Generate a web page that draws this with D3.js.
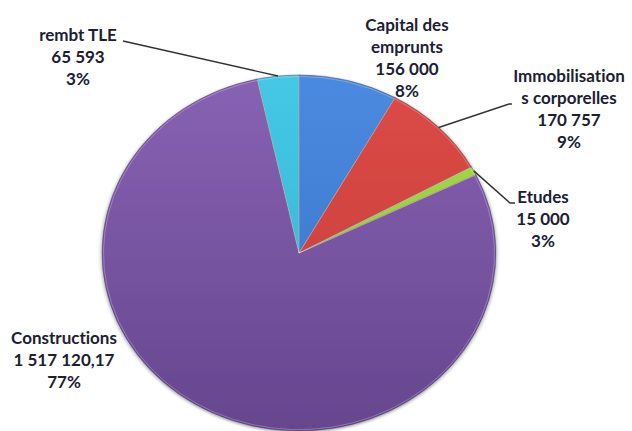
<!DOCTYPE html>
<html>
<head>
<meta charset="utf-8">
<script src="https://cdn.jsdelivr.net/npm/d3@7"></script>
<style>
  html, body { margin: 0; padding: 0; background: #fff; }
  text { font-family: "Lato", "Open Sans", sans-serif; font-weight: bold; fill: #1b2133;
         font-variant-ligatures: none; font-feature-settings: "liga" 0, "dlig" 0; }
</style>
</head>
<body>
<svg id="chart" width="632" height="431"></svg>
<script>
// slices clockwise from 12 o'clock
var labels = ["Capital des emprunts", "Immobilisations corporelles", "Etudes", "Constructions", "rembt TLE"];
var values = [156000, 170757, 15000, 1517120.17, 65593];
var valueText = ["156 000", "170 757", "15 000", "1 517 120,17", "65 593"];
var pctText = ["8%", "9%", "3%", "77%", "3%"];
// label lines as they are wrapped in the picture
var labelLines = [
  ["Capital des", "emprunts"],
  ["Immobilisation", "s corporelles"],
  ["Etudes"],
  ["Constructions"],
  ["rembt TLE"]
];
var colorsTop = ["#4a8ae0", "#dc4a46", "#a8dc48", "#8862b4", "#44c8e6"];
var colorsBot = ["#3672c4", "#c43c3a", "#8cc032", "#66468e", "#34b0cc"];

var cx = 299, cy = 253, rx = 197, ry = 178;
// label anchor: centre x, first baseline y
var labelPos = [[407, 31], [569, 82], [543, 203], [64, 344], [78, 41]];

var svg = d3.select("#chart");
var defs = svg.append("defs");

colorsTop.forEach(function(c, i) {
  var g = defs.append("linearGradient")
    .attr("id", "grad" + i)
    .attr("gradientUnits", "userSpaceOnUse")
    .attr("x1", 0).attr("y1", -rx).attr("x2", 0).attr("y2", rx);
  g.append("stop").attr("offset", "0%").attr("stop-color", c);
  g.append("stop").attr("offset", "100%").attr("stop-color", colorsBot[i]);
});

var shadow = defs.append("filter").attr("id", "shadow")
  .attr("x", "-10%").attr("y", "-10%").attr("width", "120%").attr("height", "120%");
shadow.append("feGaussianBlur").attr("in", "SourceAlpha").attr("stdDeviation", 2).attr("result", "b");
shadow.append("feOffset").attr("in", "b").attr("dx", 0).attr("dy", 1).attr("result", "o");
shadow.append("feComponentTransfer").attr("in", "o").attr("result", "s")
  .append("feFuncA").attr("type", "linear").attr("slope", 0.45);
var merge = shadow.append("feMerge");
merge.append("feMergeNode").attr("in", "s");
merge.append("feMergeNode").attr("in", "SourceGraphic");

var pie = d3.pie().sort(null).value(function(d) { return d; });
var arcs = pie(values);
var arc = d3.arc().innerRadius(0).outerRadius(rx);

var pieG = svg.append("g")
  .attr("transform", "translate(" + cx + "," + cy + ") scale(1," + (ry / rx) + ")")
  .attr("filter", "url(#shadow)");

pieG.selectAll("path")
  .data(arcs)
  .enter()
  .append("path")
  .attr("d", arc)
  .attr("fill", function(d, i) { return "url(#grad" + i + ")"; })
  .attr("stroke", "#4a4a5a")
  .attr("stroke-opacity", 0.55)
  .attr("stroke-width", 0.8)
  .attr("vector-effect", "non-scaling-stroke");

// light bevel on the edges
pieG.selectAll("path.hl")
  .data(arcs)
  .enter()
  .append("path")
  .attr("class", "hl")
  .attr("d", d3.arc().innerRadius(0).outerRadius(rx - 1.5))
  .attr("fill", "none")
  .attr("stroke", "#ffffff")
  .attr("stroke-opacity", 0.25)
  .attr("stroke-width", 1)
  .attr("vector-effect", "non-scaling-stroke");

function edgePoint(d) {
  var a = (d.startAngle + d.endAngle) / 2;
  return [cx + rx * Math.sin(a), cy - ry * Math.cos(a)];
}

// leader lines (point on the rim -> label)
var leaders = [
  { i: 4, to: [[123, 41]] },
  { i: 1, to: [[509, 104], [512, 104]] },
  { i: 2, to: [[510, 203], [515, 203]] }
];
leaders.forEach(function(l) {
  var pts = [edgePoint(arcs[l.i])].concat(l.to);
  svg.append("path")
    .attr("d", d3.line()(pts))
    .attr("fill", "none")
    .attr("stroke", "#333")
    .attr("stroke-width", 1.4);
});

var lineH = 22;
var lbl = svg.selectAll("text.lbl")
  .data(arcs)
  .enter()
  .append("text")
  .attr("class", "lbl")
  .attr("text-anchor", "middle")
  .attr("font-size", 17);

lbl.each(function(d, i) {
  var t = d3.select(this);
  var lines = labelLines[i].concat([valueText[i], pctText[i]]);
  lines.forEach(function(s, k) {
    t.append("tspan")
      .attr("x", labelPos[i][0])
      .attr("y", labelPos[i][1] + k * lineH)
      .text(s);
  });
});
</script>
</body>
</html>
